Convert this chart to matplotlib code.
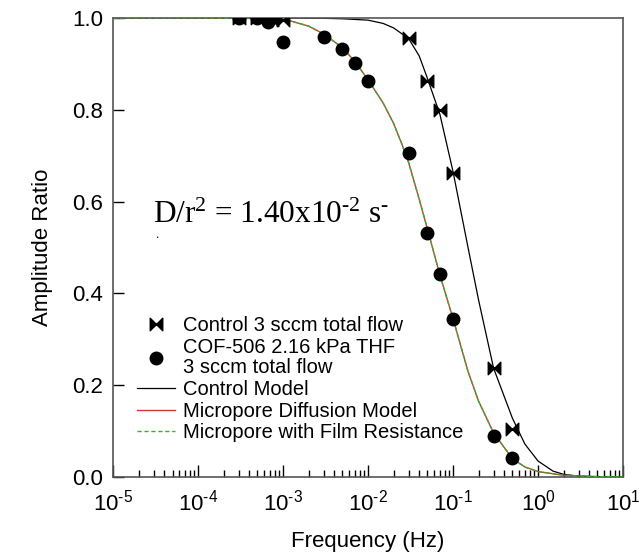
import matplotlib.pyplot as plt
import numpy as np
from matplotlib.path import Path
from matplotlib.ticker import FuncFormatter, LogLocator

plt.rcParams['font.family'] = ['Liberation Sans', 'DejaVu Sans']
plt.rcParams['mathtext.fontset'] = 'custom'
plt.rcParams['mathtext.rm'] = 'Liberation Serif'
plt.rcParams['mathtext.it'] = 'Liberation Serif:italic'

# measured points
ctrl_freq = [3e-4, 5e-4, 7.5e-4, 1e-3, 0.03, 0.05, 0.07, 0.1, 0.3, 0.5]
ctrl_amp = [1.0, 1.0, 0.995, 0.995, 0.957, 0.862, 0.80, 0.662, 0.237, 0.105]

cof_freq = [3e-4, 5e-4, 6.7e-4, 1e-3, 3e-3, 5e-3, 7e-3, 0.01, 0.03, 0.05, 0.07, 0.1, 0.3, 0.5]
cof_amp = [1.0, 1.0, 0.99, 0.948, 0.959, 0.932, 0.901, 0.863, 0.706, 0.532, 0.442, 0.344, 0.089, 0.041]

# model curves
ctrl_model_f = [1e-5, 1e-4, 1e-3, 3e-3, 5e-3, 0.01, 0.015, 0.02, 0.03, 0.04, 0.05, 0.07,
                0.1, 0.15, 0.2, 0.3, 0.5, 0.7, 1.0, 1.5, 2.0, 3.0, 5.0, 10]
ctrl_model_v = [1.0, 1.0, 1.0, 0.999, 0.998, 0.995, 0.988, 0.978, 0.955, 0.917, 0.868, 0.79,
                0.665, 0.50, 0.385, 0.237, 0.128, 0.072, 0.035, 0.013, 0.006, 0.002, 0.0005, 0.0]

micro_f = [1e-5, 1e-4, 1e-3, 2e-3, 3e-3, 5e-3, 7e-3, 0.01, 0.015, 0.02, 0.025, 0.03, 0.04,
           0.05, 0.07, 0.1, 0.15, 0.2, 0.3, 0.5, 0.7, 1.0, 2.0, 5.0, 10]
micro_v = [1.0, 1.0, 0.998, 0.982, 0.965, 0.935, 0.905, 0.865, 0.815, 0.77, 0.725, 0.685,
           0.605, 0.54, 0.44, 0.345, 0.23, 0.165, 0.096, 0.04, 0.022, 0.012, 0.004, 0.001, 0.0]
film_v = micro_v  # overlaps the diffusion model everywhere

# bowtie marker
bowtie = Path([(-1, 1), (0, 0), (-1, -1), (-1, 1), (1, 1), (0, 0), (1, -1), (1, 1)],
              [Path.MOVETO, Path.LINETO, Path.LINETO, Path.CLOSEPOLY,
               Path.MOVETO, Path.LINETO, Path.LINETO, Path.CLOSEPOLY])

fig = plt.figure(figsize=(6.39, 5.58), dpi=100)
ax = fig.add_axes([0.177, 0.145, 0.798, 0.823])

ax.plot(ctrl_model_f, ctrl_model_v, color='black', lw=0.9, label='Control Model', zorder=2)
ax.plot(micro_f, micro_v, color='#cc3a36', lw=1.0, label='Micropore Diffusion Model', zorder=2)
ax.plot(micro_f, film_v, color='#2db42d', lw=1.0, ls=(0, (3, 2)),
        label='Micropore with Film Resistance', zorder=3)
ax.plot(ctrl_freq, ctrl_amp, ls='none', marker=bowtie, ms=9, color='black',
        label='Control 3 sccm total flow', zorder=4)
ax.plot(cof_freq, cof_amp, ls='none', marker='o', ms=9, color='black',
        label='COF-506 2.16 kPa THF\n3 sccm total flow', zorder=4)

ax.set_xscale('log')
ax.set_xlim(1e-5, 10)
ax.set_ylim(0, 1.0)
ax.set_yticks([0.0, 0.2, 0.4, 0.6, 0.8, 1.0])
ax.set_yticklabels(['0.0', '0.2', '0.4', '0.6', '0.8', '1.0'])
ax.xaxis.set_major_locator(LogLocator(base=10, numticks=20))
ax.xaxis.set_major_formatter(FuncFormatter(
    lambda v, pos: r'$\mathdefault{10^{%s}}$' % str(int(round(np.log10(v)))).replace('-', '\u2010')))
ax.xaxis.set_minor_locator(LogLocator(base=10, subs=np.arange(2, 10), numticks=20))

ax.tick_params(axis='x', which='major', direction='in', length=9, width=1, labelsize=16, pad=9)
ax.tick_params(axis='x', which='minor', direction='in', length=5, width=1)
ax.tick_params(axis='y', which='major', direction='in', length=8, width=1, labelsize=16, pad=7)
for s in ax.spines.values():
    s.set_color('#555555')
    s.set_linewidth(1.2)

ax.set_xlabel('Frequency (Hz)', fontsize=16, labelpad=11)
ax.set_ylabel('Amplitude Ratio', fontsize=16, labelpad=14)

ax.text(0.078, 0.553, 'D/r$^{2}$ = 1.40x10$^{\u20102}$ s$^{\u2010}$', transform=ax.transAxes,
        family='Liberation Serif', fontsize=22.5, va='baseline', ha='left')
ax.text(0.082, 0.52, '.', transform=ax.transAxes, family='Liberation Serif',
        fontsize=9, va='baseline', ha='left')

h, l = ax.get_legend_handles_labels()
order = [3, 4, 0, 1, 2]
leg = ax.legend([h[i] for i in order], [l[i] for i in order], loc='upper left',
                bbox_to_anchor=(0.027, 0.372), frameon=False, fontsize=14.5, borderpad=0,
                handlelength=1.9, handletextpad=0.4, labelspacing=0.13)
for t in leg.get_texts():
    t.set_linespacing(1.1)

fig.savefig('out.png', dpi=100)
